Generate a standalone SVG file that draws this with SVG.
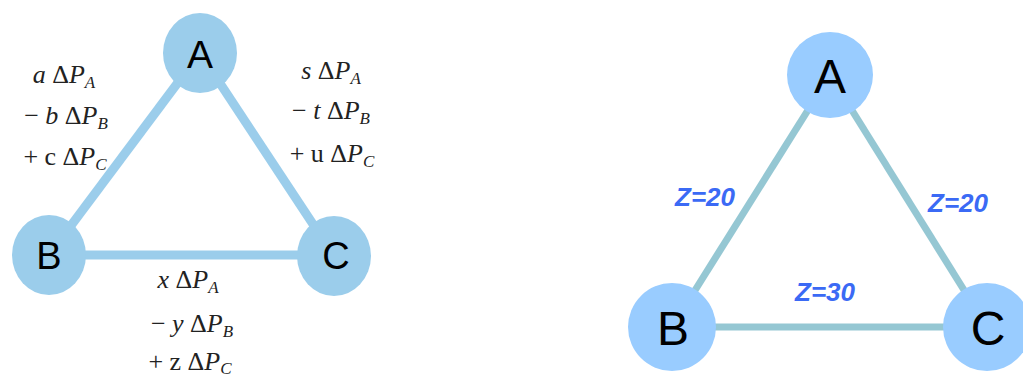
<svg xmlns="http://www.w3.org/2000/svg" width="1023" height="376" viewBox="0 0 1023 376">
<style>
.e1{stroke:#9BCDEB;stroke-width:9;fill:none}
.e2{stroke:#95C7D3;stroke-width:7;fill:none}
.n1{fill:#9BCDEB}
.n2{fill:#99CCFF}
.lbl{font-family:"Liberation Sans",Arial,sans-serif;fill:#000;text-anchor:middle}
.m{font-family:"Liberation Serif","DejaVu Serif",serif;font-size:26px;fill:#222;text-anchor:middle}
.i{font-style:italic}
.s{font-size:17px;font-style:italic}
.z{font-family:"Liberation Sans",Arial,sans-serif;font-size:26px;font-weight:bold;font-style:italic;fill:#3B6AF5;text-anchor:middle}
</style>
<rect width="1023" height="376" fill="#fff"/>
<g id="connectors">
<line class="e1" x1="200" y1="53" x2="49" y2="255"/>
<line class="e1" x1="200" y1="53" x2="334" y2="256"/>
<line class="e1" x1="49" y1="255" x2="334" y2="255"/>
<line class="e2" x1="830" y1="75" x2="672" y2="327"/>
<line class="e2" x1="830" y1="75" x2="987" y2="327"/>
<line class="e2" x1="672" y1="327" x2="987" y2="327"/>
</g>
<g id="nodeA1"><ellipse class="n1" cx="200" cy="53" rx="37" ry="40"/><text class="lbl" x="200" y="68" font-size="39">A</text></g>
<g id="nodeB1"><ellipse class="n1" cx="49" cy="255" rx="37" ry="40"/><text class="lbl" x="49" y="269" font-size="38">B</text></g>
<g id="nodeC1"><ellipse class="n1" cx="334" cy="256" rx="37" ry="40"/><text class="lbl" x="336" y="269" font-size="38">C</text></g>
<g id="labelAB1">
<text class="m" x="64" y="83"><tspan class="i">a</tspan> Δ<tspan class="i">P</tspan><tspan class="s" dy="5">A</tspan></text>
<text class="m" x="66" y="124">− <tspan class="i">b</tspan> Δ<tspan class="i">P</tspan><tspan class="s" dy="5">B</tspan></text>
<text class="m" x="65" y="165">+ c Δ<tspan class="i">P</tspan><tspan class="s" dy="5">C</tspan></text>
</g>
<g id="labelAC1">
<text class="m" x="331" y="79"><tspan class="i">s</tspan> Δ<tspan class="i">P</tspan><tspan class="s" dy="5">A</tspan></text>
<text class="m" x="331" y="119">− <tspan class="i">t</tspan> Δ<tspan class="i">P</tspan><tspan class="s" dy="5">B</tspan></text>
<text class="m" x="332" y="162">+ u Δ<tspan class="i">P</tspan><tspan class="s" dy="5">C</tspan></text>
</g>
<g id="labelBC1">
<text class="m" x="188" y="288"><tspan class="i">x</tspan> Δ<tspan class="i">P</tspan><tspan class="s" dy="5">A</tspan></text>
<text class="m" x="192" y="332">− <tspan class="i">y</tspan> Δ<tspan class="i">P</tspan><tspan class="s" dy="5">B</tspan></text>
<text class="m" x="190" y="370">+ z Δ<tspan class="i">P</tspan><tspan class="s" dy="4">C</tspan></text>
</g>
<g id="nodeA2"><circle class="n2" cx="830" cy="75" r="43"/><text class="lbl" x="830" y="93" font-size="48">A</text></g>
<g id="nodeB2"><circle class="n2" cx="672" cy="327" r="44"/><text class="lbl" x="673" y="345" font-size="48">B</text></g>
<g id="nodeC2"><circle class="n2" cx="987" cy="327" r="44"/><text class="lbl" x="988" y="345" font-size="48">C</text></g>
<text class="z" x="705" y="206">Z=20</text>
<text class="z" x="958" y="212">Z=20</text>
<text class="z" x="825" y="301">Z=30</text>
</svg>
